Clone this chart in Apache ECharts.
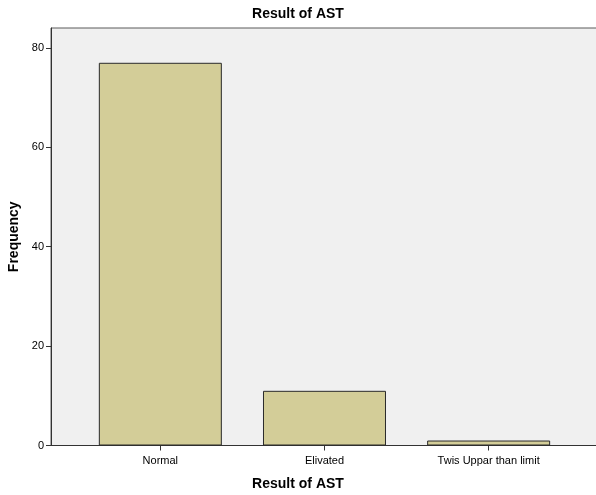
<!DOCTYPE html>
<html>
<head>
<meta charset="utf-8">
<script src="https://cdn.jsdelivr.net/npm/echarts@6/dist/echarts.min.js"></script>
<style>html,body{margin:0;padding:0;background:#fff;}#c{width:596px;height:495px;}</style>
</head>
<body>
<div id="c"></div>
<script>
const categories = ["Normal", "Elivated", "Twis Uppar than limit"];
const positions = [1, 2, 3];
const frequencies = [77, 11, 1];
const yTicks = [0, 20, 40, 60, 80];

const chart = echarts.init(document.getElementById('c'));
const FONT = '"Liberation Sans", Arial, sans-serif';
chart.setOption({
  animation: false,
  title: [
    { text: 'Result of AST', left: 'center', top: 2, textStyle: { fontFamily: FONT, fontSize: 14, fontWeight: 'bold', color: '#000' } },
    { text: 'Result of AST', left: 'center', top: 472, textStyle: { fontFamily: FONT, fontSize: 14, fontWeight: 'bold', color: '#000' } }
  ],
  grid: { left: 51, top: 28, right: -1, bottom: 49.5, outerBoundsMode: 'none', containLabel: false, show: true, backgroundColor: '#f0f0f0', borderColor: '#5a5a5a', borderWidth: 1 },
  xAxis: {
    type: 'value', min: 0.334, max: 3.66,
    splitLine: { show: false },
    axisLine: { show: true, lineStyle: { color: '#333', width: 1 } },
    axisTick: { show: true, customValues: positions, length: 5, lineStyle: { color: '#333' } },
    axisLabel: { customValues: positions, formatter: v => categories[positions.indexOf(Math.round(v))] || '', fontFamily: FONT, fontSize: 11, color: '#000', margin: 10 }
  },
  yAxis: {
    type: 'value', min: 0, max: 84, interval: 20,
    name: 'Frequency', nameLocation: 'middle', nameGap: 25, nameRotate: 90,
    nameTextStyle: { fontFamily: FONT, fontSize: 14, fontWeight: 'bold', color: '#000' },
    splitLine: { show: false },
    axisLine: { show: true, lineStyle: { color: '#333', width: 1 } },
    axisTick: { show: true, customValues: yTicks, length: 5, lineStyle: { color: '#333' } },
    axisLabel: { customValues: yTicks, fontFamily: FONT, fontSize: 11, color: '#000', margin: 7 }
  },
  series: [{
    type: 'bar',
    data: positions.map((p, i) => [p, frequencies[i]]),
    barWidth: 123,
    itemStyle: { color: '#d3cd98', borderColor: '#2a2a2a', borderWidth: 1 }
  }]
});
</script>
</body>
</html>
